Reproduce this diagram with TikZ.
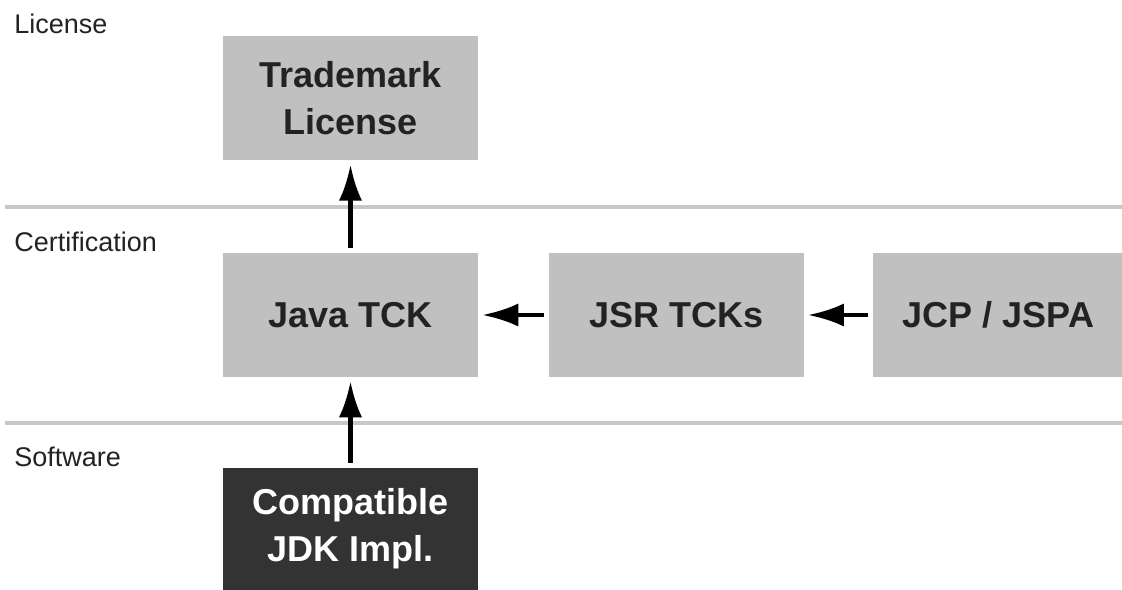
\documentclass[tikz,border=0pt]{standalone}
\usepackage{fontspec}
\setmainfont{Liberation Sans}
\definecolor{boxgrey}{RGB}{192, 192, 192}
\definecolor{boxdark}{RGB}{51, 51, 51}
\definecolor{inkdark}{RGB}{34, 34, 34}
\definecolor{laneline}{RGB}{200, 200, 200}
\usetikzlibrary{positioning,arrows.meta}
\newcommand{\boxtext}[1]{\fontsize{25.6pt}{33.4pt}\selectfont\bfseries #1}
\newcommand{\lanetext}[1]{\fontsize{19.2pt}{23pt}\selectfont #1}

\begin{document}
\begin{tikzpicture}[x=0.025cm, y=0.025cm,
    stagebox/.style={fill=boxgrey, text=inkdark, minimum width=6.375cm, minimum height=3.1cm,
      inner sep=0pt, align=center, font=\boxtext},
    implbox/.style={stagebox, fill=boxdark, text=white},
    lanelabel/.style={anchor=base west, inner sep=0pt, text=inkdark},
    laneline/.style={draw=laneline, line width=0.1cm},
    flowarrow/.style={-{Latex[length=0.9cm, width=0.58cm]}, line width=0.11cm, black,
      shorten <=0.12cm, shorten >=0.1cm}]
  \useasboundingbox (0,0) rectangle (1122,-590);

  % lanes
  \draw[laneline] (5,-207) -- (1122,-207);
  \draw[laneline] (5,-423) -- (1122,-423);
  \node[lanelabel] (lic) at (14,-34) {\lanetext{License}};
  \node[lanelabel] (cert) at (14,-251) {\lanetext{Certification}};
  \node[lanelabel] (soft) at (14,-466) {\lanetext{Software}};

  % boxes
  \node[stagebox] (javatck) at (350.5,-315) {Java TCK};
  \node[stagebox, above=2.3cm of javatck] (trademark) {Trademark\\License};
  \node[stagebox, right=1.75cm of javatck] (jsrtcks) {JSR TCKs};
  \node[stagebox, minimum width=6.25cm, right=1.725cm of jsrtcks] (jcp) {JCP / JSPA};
  \node[implbox, minimum height=3.075cm, below=2.25cm of javatck] (jdk) {Compatible\\JDK Impl.};

  % flow
  \draw[flowarrow] (javatck) -- (trademark);
  \draw[flowarrow] (jdk) -- (javatck);
  \draw[flowarrow] (jsrtcks) -- (javatck);
  \draw[flowarrow] (jcp) -- (jsrtcks);
\end{tikzpicture}
\end{document}
